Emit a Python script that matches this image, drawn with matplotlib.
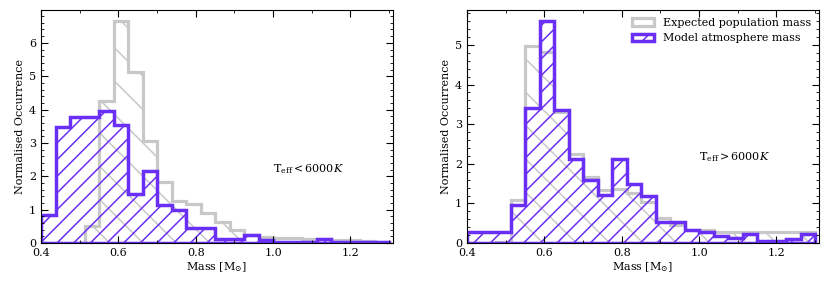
import matplotlib
matplotlib.use("Agg")
import matplotlib.pyplot as plt
import numpy as np
from matplotlib.ticker import AutoMinorLocator, MultipleLocator

# --- data (24 bins, 0.4 -> 1.3 Msun) --------------------------------------- #
edges = np.linspace(0.4, 1.3, 25)

cool_expected = [0.0, 0.0, 0.0, 0.52, 4.25, 6.65, 5.12, 3.05, 1.83, 1.26,
                 1.16, 0.9, 0.63, 0.38, 0.23, 0.18, 0.16, 0.15, 0.13, 0.11,
                 0.1, 0.08, 0.06, 0.04]
cool_model = [0.83, 3.47, 3.77, 3.77, 3.95, 3.55, 1.48, 2.16, 1.13, 1.0,
              0.45, 0.45, 0.13, 0.13, 0.24, 0.08, 0.02, 0.02, 0.02, 0.12,
              0.02, 0.02, 0.02, 0.02]

hot_expected = [0.0, 0.0, 0.03, 1.08, 4.97, 4.83, 3.31, 2.26, 1.67, 1.35,
                1.37, 1.26, 1.04, 0.63, 0.45, 0.32, 0.33, 0.27, 0.27, 0.27,
                0.27, 0.27, 0.27, 0.27]
hot_model = [0.28, 0.28, 0.28, 0.97, 3.42, 5.6, 3.36, 2.13, 1.58, 1.22,
             2.13, 1.5, 1.2, 0.52, 0.52, 0.34, 0.28, 0.19, 0.13, 0.24,
             0.05, 0.05, 0.11, 0.24]

labels = ["Expected population mass", "Model atmosphere mass"]
panel_text = [r"T$_{\rm eff} < 6000K$", r"T$_{\rm eff} > 6000K$"]

GREY = "#c8c8c8"
PURPLE = "#6a2ff5"

plt.rcParams.update({
    "font.family": "serif",
    "font.serif": ["DejaVu Serif"],
    "mathtext.fontset": "dejavuserif",
    "font.size": 8,
    "hatch.linewidth": 1.1,
})

fig = plt.figure(figsize=(8.3, 2.87), dpi=100)
axes = [fig.add_axes([0.0494, 0.153, 0.424, 0.812]),
        fig.add_axes([0.5627, 0.153, 0.424, 0.812])]

panels = [(cool_expected, cool_model), (hot_expected, hot_model)]
for ax, (exp, mod), txt in zip(axes, panels, panel_text):
    ax.hist(edges[:-1], bins=edges, weights=exp, histtype="stepfilled",
            facecolor="none", edgecolor=GREY, lw=2.3, hatch="\\",
            label=labels[0])
    ax.hist(edges[:-1], bins=edges, weights=mod, histtype="stepfilled",
            facecolor="none", edgecolor=PURPLE, lw=2.5, hatch="//",
            label=labels[1])
    ax.set_xlim(0.4, 1.31)
    ax.set_ylim(0, 1.05 * max(max(exp), max(mod)))
    ax.text(1.0, 2.0, txt, ha="left", va="bottom", fontsize=8)
    ax.set_xlabel(r"Mass [M$_{\odot}$]")
    ax.set_ylabel("Normalised Occurrence")
    ax.xaxis.set_major_locator(MultipleLocator(0.2))
    ax.xaxis.set_minor_locator(AutoMinorLocator(2))
    ax.yaxis.set_major_locator(MultipleLocator(1))
    ax.yaxis.set_minor_locator(AutoMinorLocator(5))
    ax.tick_params(which="both", direction="in", top=True, right=True,
                   labelsize=8)
    ax.tick_params(which="major", length=5)
    ax.tick_params(which="minor", length=2.5)
    ax.xaxis.labelpad = 2
    ax.yaxis.labelpad = 3

axes[1].legend(loc="upper right", frameon=False, fontsize=8,
               handlelength=2.0, borderaxespad=0.3)

fig.savefig("out.png", dpi=100)
